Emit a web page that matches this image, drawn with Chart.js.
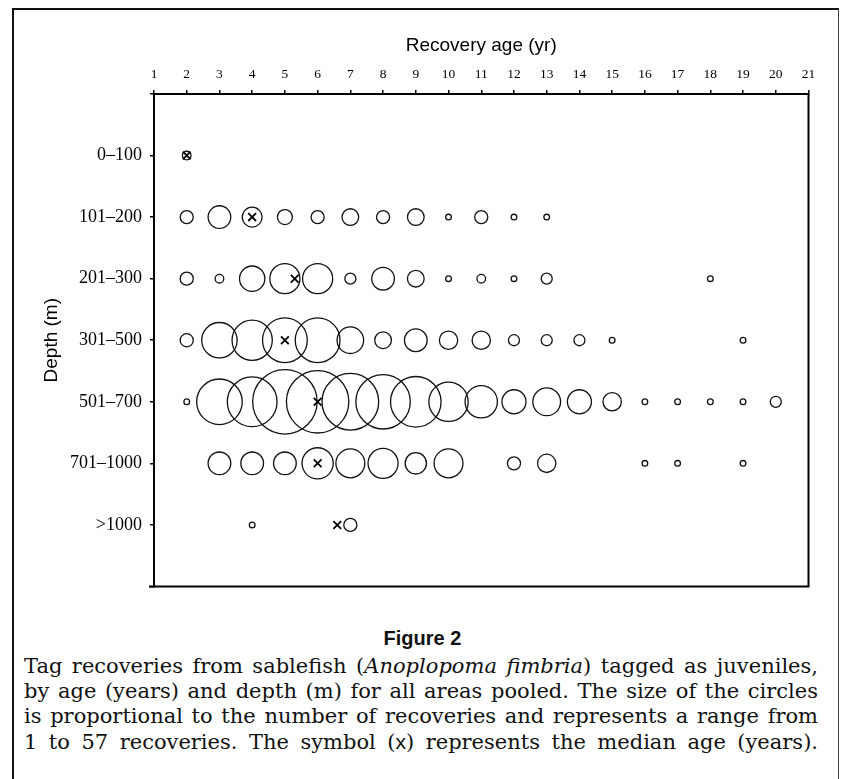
<!DOCTYPE html>
<html>
<head>
<meta charset="utf-8">
<script src="https://cdn.jsdelivr.net/npm/chart.js@4.4.1/dist/chart.umd.min.js"></script>
<style>
html,body{margin:0;padding:0;background:#fff;}
body{width:843px;height:779px;position:relative;overflow:hidden;}
#frame{position:absolute;left:12px;top:8px;width:827px;height:820px;border:2px solid #111;border-right:1.5px solid #444;box-sizing:border-box;}
#wrap{position:absolute;left:0;top:0;width:843px;height:620px;}
#fig{position:absolute;left:0;width:845px;top:627px;text-align:center;font:bold 20px "Liberation Sans",Arial,sans-serif;color:#111;}
#cap{position:absolute;left:24px;top:654px;width:794px;font:21px "DejaVu Serif",serif;line-height:25px;color:#111;}
#cap div{white-space:nowrap;}
.sx{font-family:"Liberation Sans",Arial,sans-serif;}
</style>
</head>
<body>
<div id="frame"></div>
<div id="wrap"><canvas id="c" width="843" height="620"></canvas></div>
<div id="fig">Figure 2</div>
<div id="cap">
<div><span>Tag recoveries from sablefish (<i>Anoplopoma fimbria</i>) tagged as juveniles,</span></div>
<div><span>by age (years) and depth (m) for all areas pooled. The size of the circles</span></div>
<div><span>is proportional to the number of recoveries and represents a range from</span></div>
<div><span>1 to 57 recoveries. The symbol (<span class="sx">x</span>) represents the median age (years).</span></div>
</div>
<script>
// ---- data ----
const ageTicks = [1,2,3,4,5,6,7,8,9,10,11,12,13,14,15,16,17,18,19,20,21];
const depthLabels = ['0–100','101–200','201–300','301–500','501–700','701–1000','>1000'];
// recovery counts by age 2..20 (null = none)
const ages       = [2,3,4,5,6,7,8,9,10,11,12,13,14,15,16,17,18,19,20];
const rec0_100    = [2,null,null,null,null,null,null,null,null,null,null,null,null,null,null,null,null,null,null];
const rec101_200  = [4,10,8,5,4,6,4,6,1,4,1,1,null,null,null,null,null,null,null];
const rec201_300  = [4,2,12,16,16,3,10,6,1,2,1,3,null,null,null,null,1,null,null];
const rec301_500  = [4,21,26,31,31,13,6,10,7,7,3,3,3,1,null,null,null,1,null];
const rec501_700  = [1,32,37,57,54,46,43,38,25,18,11,14,11,7,1,1,1,1,3];
const rec701_1000 = [null,10,10,10,17,15,16,9,15,null,4,7,null,null,1,1,null,1,null];
const rec1000plus = [null,null,1,null,null,4,null,null,null,null,null,null,null,null,null,null,null,null,null];
const medianAges  = [2,4,5.3,5,6,6,6.6];

const rows = [rec0_100,rec101_200,rec201_300,rec301_500,rec501_700,rec701_1000,rec1000plus];
const sizeOf = n => 2.85*Math.pow(n,0.6);

const bubbles = [];
rows.forEach((row,i)=>{
  row.forEach((n,j)=>{
    if(n!=null) bubbles.push({x:ages[j], y:i+1, r:sizeOf(n), n:n});
  });
});
const medians = medianAges.map((a,i)=>({x:a, y:i+1}));

const frameBox = {
  id:'frameBox',
  afterDraw(chart){
    const {ctx, chartArea:a} = chart;
    ctx.save();
    ctx.strokeStyle='#000';
    ctx.lineWidth=2;
    ctx.beginPath();
    ctx.moveTo(a.right, a.top); ctx.lineTo(a.right, a.bottom);
    ctx.moveTo(a.left-5, a.bottom); ctx.lineTo(a.right+1, a.bottom);
    ctx.stroke();
    ctx.restore();
  }
};

new Chart(document.getElementById('c'), {
  type:'bubble',
  data:{datasets:[
    {type:'scatter', data:medians, pointStyle:'crossRot', pointRadius:5.5, borderWidth:1.8, borderColor:'#000', backgroundColor:'#000', showLine:false},
    {type:'bubble', data:bubbles, borderColor:'#111', borderWidth:1.3, backgroundColor:'rgba(0,0,0,0)'}
  ]},
  options:{
    responsive:false, devicePixelRatio:1, animation:false, events:[],
    layout:{padding:{left:0, top:0, right:34.5, bottom:31}},
    plugins:{legend:{display:false}, tooltip:{enabled:false}},
    clip:false,
    scales:{
      x:{type:'linear', position:'top', min:1, max:21,
        afterBuildTicks:s=>{ s.ticks = ageTicks.map(v=>({value:v})); },
        ticks:{padding:7, autoSkip:false, maxRotation:0, color:'#000', font:{family:'"Liberation Serif", serif', size:13.5}},
        grid:{drawOnChartArea:false, drawTicks:true, tickLength:4, color:'#000', lineWidth:1.5},
        border:{display:true, color:'#000', width:2},
        title:{display:true, text:'Recovery age (yr)', color:'#000', font:{family:'"Liberation Sans", Arial, sans-serif', size:19}, padding:{top:34.6, bottom:0}},
        afterFit:s=>{ s.height = 94; s.paddingLeft = 0; s.paddingRight = 0; }
      },
      y:{type:'linear', reverse:true, min:0, max:8,
        afterBuildTicks:s=>{ s.ticks = [0,1,2,3,4,5,6,7,8].map(v=>({value:v})); },
        ticks:{padding:8, autoSkip:false, color:'#000', font:{family:'"Liberation Serif", serif', size:18},
          callback:v=> (v>=1 && v<=7) ? depthLabels[v-1] : ''},
        grid:{drawOnChartArea:false, drawTicks:true, tickLength:4, color:'#000', lineWidth:1.5},
        border:{display:true, color:'#000', width:2},
        title:{display:true, text:'Depth (m)', color:'#000', font:{family:'"Liberation Sans", Arial, sans-serif', size:19}, padding:{top:40.6, bottom:0}},
        afterFit:s=>{ s.width = 154; s.paddingTop = 0; s.paddingBottom = 0; }
      }
    }
  },
  plugins:[frameBox]
});

// justify caption lines to the full width
document.querySelectorAll('#cap > div > span').forEach(sp=>{
  const w = sp.getBoundingClientRect().width;
  const spaces = (sp.textContent.match(/ /g)||[]).length;
  if(spaces>0) sp.style.wordSpacing = ((794 - w)/spaces) + 'px';
});
</script>
</body>
</html>
